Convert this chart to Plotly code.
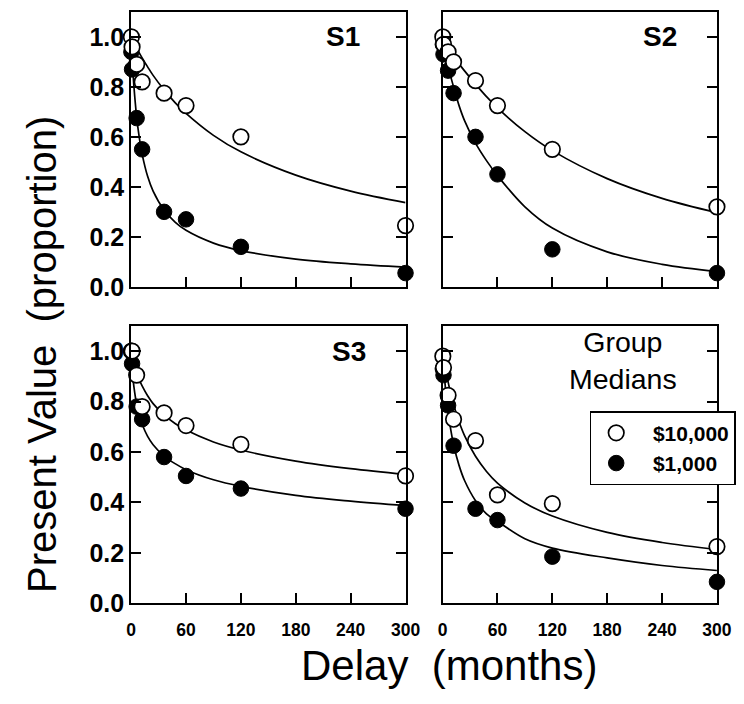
import plotly.graph_objects as go

# ---------------- data ----------------
delays = [0.25, 1, 6, 12, 36, 60, 120, 300]

s1_10k = [1.00, 0.96, 0.89, 0.82, 0.775, 0.725, 0.60, 0.245]
s1_1k = [0.94, 0.87, 0.675, 0.55, 0.30, 0.27, 0.16, 0.055]
s2_10k = [1.00, 0.97, 0.94, 0.90, 0.825, 0.725, 0.55, 0.32]
s2_1k = [0.97, 0.93, 0.865, 0.775, 0.60, 0.45, 0.15, 0.055]
s3_10k = [1.00, 1.00, 0.905, 0.78, 0.755, 0.705, 0.63, 0.505]
s3_1k = [1.00, 0.95, 0.78, 0.73, 0.58, 0.505, 0.455, 0.375]
grp_10k = [0.98, 0.935, 0.825, 0.73, 0.645, 0.43, 0.395, 0.225]
grp_1k = [0.93, 0.905, 0.785, 0.625, 0.375, 0.33, 0.185, 0.085]

# fitted curves
curve_delays = [0, 1, 2, 3, 6, 9, 12, 18, 24, 36, 48, 60, 90, 120, 180, 240, 300]
s1_10k_curve = [1.0, 0.992, 0.985, 0.977, 0.956, 0.935, 0.916, 0.880, 0.846, 0.788, 0.737, 0.694, 0.606, 0.540, 0.447, 0.383, 0.337]
s1_1k_curve = [1.0, 0.922, 0.858, 0.803, 0.680, 0.594, 0.531, 0.442, 0.383, 0.307, 0.259, 0.226, 0.175, 0.145, 0.111, 0.092, 0.079]
s2_10k_curve = [1.0, 0.994, 0.987, 0.981, 0.962, 0.940, 0.922, 0.892, 0.864, 0.811, 0.761, 0.716, 0.621, 0.545, 0.433, 0.354, 0.297]
s2_1k_curve = [1.0, 0.980, 0.960, 0.940, 0.885, 0.840, 0.800, 0.725, 0.665, 0.575, 0.505, 0.445, 0.320, 0.235, 0.140, 0.090, 0.061]
s3_10k_curve = [1.0, 0.983, 0.967, 0.952, 0.916, 0.886, 0.862, 0.823, 0.792, 0.747, 0.713, 0.687, 0.640, 0.608, 0.564, 0.534, 0.511]
s3_1k_curve = [1.0, 0.938, 0.893, 0.859, 0.789, 0.743, 0.710, 0.662, 0.629, 0.584, 0.554, 0.530, 0.490, 0.464, 0.428, 0.405, 0.387]
grp_10k_curve = [1.0, 0.976, 0.954, 0.933, 0.878, 0.830, 0.788, 0.720, 0.665, 0.583, 0.523, 0.477, 0.398, 0.346, 0.281, 0.241, 0.213]
grp_1k_curve = [1.0, 0.946, 0.900, 0.858, 0.760, 0.687, 0.630, 0.547, 0.487, 0.407, 0.355, 0.325, 0.256, 0.219, 0.180, 0.150, 0.130]

panel_names = ["S1", "S2", "S3"]
x_ticks = [0, 60, 120, 180, 240, 300]
y_ticks = [0.0, 0.2, 0.4, 0.6, 0.8, 1.0]
legend_labels = ["$10,000", "$1,000"]

panels = [
    (s1_10k, s1_1k, s1_10k_curve, s1_1k_curve),
    (s2_10k, s2_1k, s2_10k_curve, s2_1k_curve),
    (s3_10k, s3_1k, s3_10k_curve, s3_1k_curve),
    (grp_10k, grp_1k, grp_10k_curve, grp_1k_curve),
]

# ---------------- layout geometry ----------------
W, H = 744, 704
OFF = 8                       # page body margin
SX, SY = 744 / 760, 704 / 720  # photo scale observed for the page
FONT = "Liberation Sans, Arial, sans-serif"


def fx(X):
    return (X / SX - OFF) / W


def fy(Y):
    return 1 - (Y / SY - OFF) / H


x_doms = [[fx(126.7), fx(402.7)], [fx(440), fx(716)]]
y_doms = [[fy(286), fy(11.7)], [fy(601.7), fy(325)]]

fig = go.Figure()

for i, (big, small, big_c, small_c) in enumerate(panels):
    ax = "" if i == 0 else str(i + 1)
    xa, ya = "x" + ax, "y" + ax
    show = i == 3
    for c in (big_c, small_c):
        fig.add_trace(go.Scatter(x=curve_delays, y=c, mode="lines", xaxis=xa, yaxis=ya,
                                 line=dict(color="black", width=1.7, shape="spline", smoothing=1.0),
                                 showlegend=False, hoverinfo="skip", cliponaxis=False))
    fig.add_trace(go.Scatter(x=delays, y=small, mode="markers", xaxis=xa, yaxis=ya,
                             name="\u00a0\u00a0" + legend_labels[1], legendrank=2, showlegend=show,
                             marker=dict(size=15.5, color="black", line=dict(color="black", width=1)),
                             cliponaxis=False))
    fig.add_trace(go.Scatter(x=delays, y=big, mode="markers", xaxis=xa, yaxis=ya,
                             name="\u00a0\u00a0" + legend_labels[0], legendrank=1, showlegend=show,
                             marker=dict(size=15.5, color="white", line=dict(color="black", width=1.7)),
                             cliponaxis=False))

layout = dict(
    width=W, height=H,
    margin=dict(l=0, r=0, t=0, b=0),
    paper_bgcolor="white", plot_bgcolor="white",
    font=dict(family=FONT, color="black"),
    showlegend=True,
    legend=dict(x=fx(588), y=fy(410), xanchor="left", yanchor="top",
                bgcolor="white", bordercolor="black", borderwidth=1.5,
                font=dict(family=FONT, size=21, color="black", weight="bold"),
                itemwidth=40, tracegroupgap=0),
)

for i in range(4):
    ax = "" if i == 0 else str(i + 1)
    row, col = divmod(i, 2)
    bottom = row == 1
    left = col == 0
    layout["xaxis" + ax] = dict(
        domain=x_doms[col], anchor="y" + ax, range=[0, 300],
        tickvals=x_ticks, ticks="inside", ticklen=10, tickwidth=1.6, tickcolor="black",
        showline=True, linewidth=2, linecolor="black", mirror=True,
        showgrid=False, zeroline=False, showticklabels=bottom,
        tickfont=dict(family=FONT, size=17.5, color="black", weight="bold"),
        ticklabelstandoff=10,
    )
    layout["yaxis" + ax] = dict(
        domain=y_doms[row], anchor="x" + ax, range=[0, 1.1],
        tickvals=y_ticks, tickformat=".1f", ticks="inside", ticklen=10, tickwidth=1.6, tickcolor="black",
        showline=True, linewidth=2, linecolor="black", mirror="ticks",
        showgrid=False, zeroline=False, showticklabels=left,
        tickfont=dict(family=FONT, size=25, color="black", weight="bold"),
    )

fig.update_layout(**layout)

label_pos = [("x", "y", 232), ("x2", "y2", 238), ("x3", "y3", 238)]
for name, (xr, yr, xp) in zip(panel_names, label_pos):
    fig.add_annotation(x=xp, y=1.0, xref=xr, yref=yr, text="<b>" + name + "</b>", showarrow=False,
                       font=dict(family=FONT, size=28, color="black"), xanchor="center", yanchor="middle")

fig.add_annotation(x=197, y=0.963, xref="x4", yref="y4", text="Group<br>Medians", showarrow=False,
                   font=dict(family=FONT, size=28.5, color="black"), xanchor="center", yanchor="middle")

fig.add_annotation(x=fx(37), y=fy(353), xref="paper", yref="paper", text="Present Value  (proportion)",
                   textangle=-90, showarrow=False, font=dict(family=FONT, size=40, color="black"),
                   xanchor="center", yanchor="middle")
fig.add_annotation(x=fx(446.5), y=fy(664), xref="paper", yref="paper", text="Delay  (months)",
                   showarrow=False, font=dict(family=FONT, size=42, color="black"),
                   xanchor="center", yanchor="middle")

fig.write_html("out.html")
